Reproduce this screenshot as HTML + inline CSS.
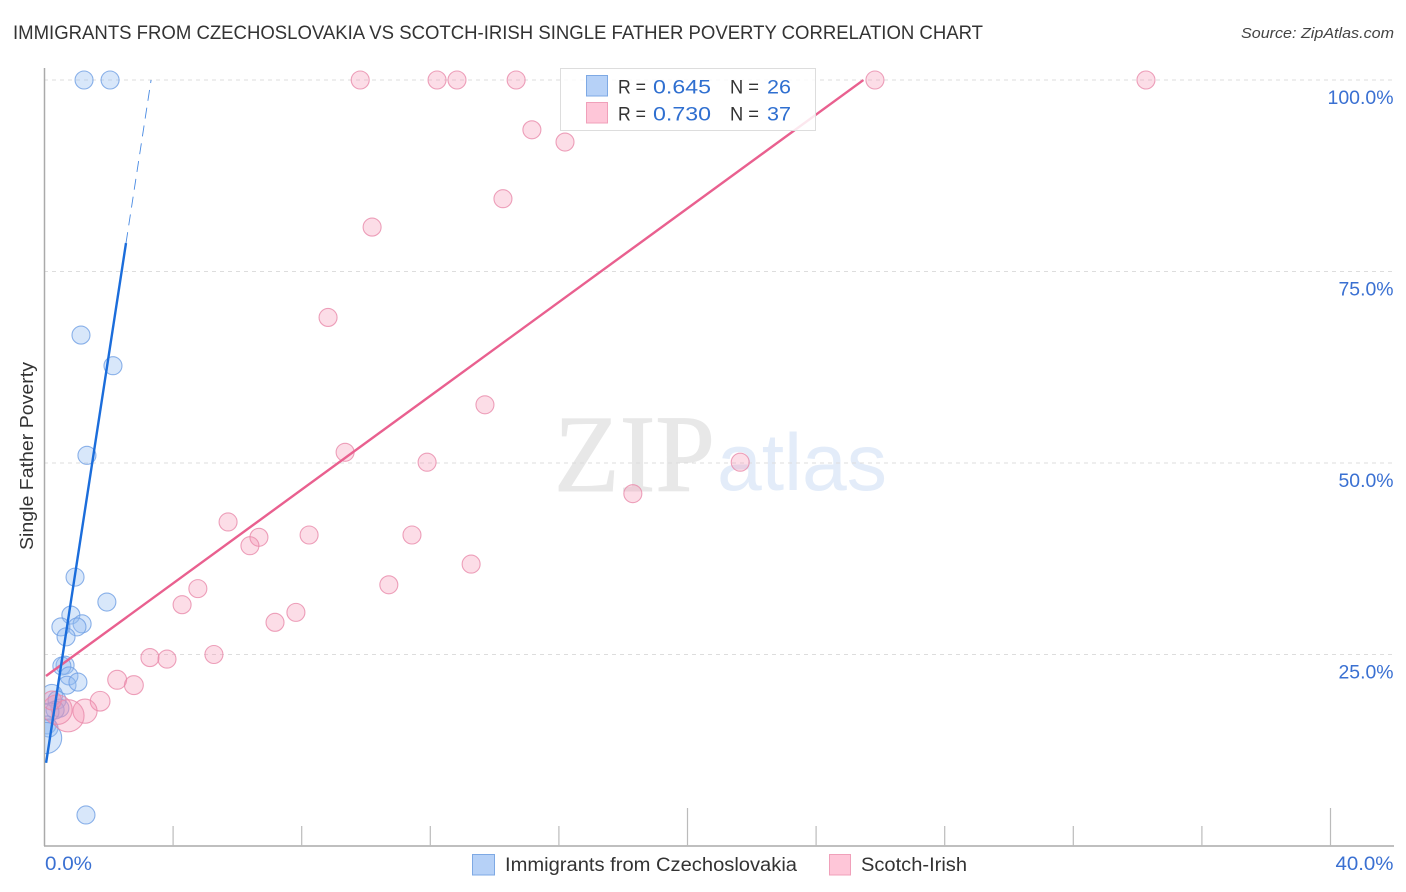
<!DOCTYPE html>
<html lang="en">
<head>
<meta charset="utf-8">
<title>Immigrants from Czechoslovakia vs Scotch-Irish Single Father Poverty Correlation Chart</title>
<style>
html,body{margin:0;padding:0;background:#fff;}
svg{display:block;font-family:"Liberation Sans",sans-serif;}
</style>
</head>
<body>
<svg id="chart" xmlns="http://www.w3.org/2000/svg" width="1406" height="892" viewBox="0 0 1406 892">
  <defs>
    <clipPath id="plot-clip"><rect x="45" y="60" width="1349" height="786"/></clipPath>
  </defs>
  <rect x="0" y="0" width="1406" height="892" fill="#fff"/>
  <text x="13" y="39" font-size="19" fill="#333" textLength="970" lengthAdjust="spacingAndGlyphs">IMMIGRANTS FROM CZECHOSLOVAKIA VS SCOTCH-IRISH SINGLE FATHER POVERTY CORRELATION CHART</text>
  <text x="1394" y="38" font-size="15" font-style="italic" fill="#444" text-anchor="end" textLength="153" lengthAdjust="spacingAndGlyphs">Source: ZipAtlas.com</text>
  <text transform="translate(33,550) rotate(-90)" font-size="18" fill="#333" textLength="188" lengthAdjust="spacingAndGlyphs">Single Father Poverty</text>

  <g>
    <text x="554" y="491" style="font-family:'Liberation Serif',serif" font-size="110" fill="#e8e8e8" stroke="#e8e8e8" stroke-width="1" textLength="161" lengthAdjust="spacingAndGlyphs">ZIP</text>
    <text x="717" y="490" style="font-family:'Liberation Sans',sans-serif" font-size="81" fill="#e3ecf9" textLength="170" lengthAdjust="spacingAndGlyphs">atlas</text>
  </g>

  <g id="grid"></g>
  <g id="axes"></g>
  <g id="points" clip-path="url(#plot-clip)"></g>
  <g id="trends"></g>

  <g>
    <rect x="560.5" y="68.5" width="255" height="62" fill="#fff" fill-opacity="0.85" stroke="#ddd" stroke-width="1"/>
    <rect x="586.5" y="75.5" width="21" height="20.5" fill="#b6d1f7" stroke="#7ea9e4"/>
    <rect x="586.5" y="102.5" width="21" height="20.5" fill="#fec6d8" stroke="#f0a0ba"/>
    <text x="618" y="93.5" font-size="19.5" fill="#333" textLength="28" lengthAdjust="spacingAndGlyphs">R =</text>
    <text x="653" y="93.5" font-size="19.5" fill="#2f6fd0" textLength="58" lengthAdjust="spacingAndGlyphs">0.645</text>
    <text x="730" y="93.5" font-size="19.5" fill="#333" textLength="29" lengthAdjust="spacingAndGlyphs">N =</text>
    <text x="767" y="93.5" font-size="19.5" fill="#2f6fd0" textLength="24" lengthAdjust="spacingAndGlyphs">26</text>
    <text x="618" y="120.5" font-size="19.5" fill="#333" textLength="28" lengthAdjust="spacingAndGlyphs">R =</text>
    <text x="653" y="120.5" font-size="19.5" fill="#2f6fd0" textLength="58" lengthAdjust="spacingAndGlyphs">0.730</text>
    <text x="730" y="120.5" font-size="19.5" fill="#333" textLength="29" lengthAdjust="spacingAndGlyphs">N =</text>
    <text x="767" y="120.5" font-size="19.5" fill="#2f6fd0" textLength="24" lengthAdjust="spacingAndGlyphs">37</text>
  </g>

  <g>
    <rect x="472.5" y="854.5" width="22" height="20.5" fill="#b6d1f7" stroke="#7ea9e4"/>
    <text x="505" y="871" font-size="19" fill="#333" textLength="292" lengthAdjust="spacingAndGlyphs">Immigrants from Czechoslovakia</text>
    <rect x="829.5" y="854.5" width="21" height="20.5" fill="#fec6d8" stroke="#f0a0ba"/>
    <text x="861" y="871" font-size="19" fill="#333" textLength="106" lengthAdjust="spacingAndGlyphs">Scotch-Irish</text>
  </g>
</svg>
<script>
// Chart data
const yTickValues = [25, 50, 75, 100];
const yTickLabels = ['25.0%', '50.0%', '75.0%', '100.0%'];
const xTickValues = [4, 8, 12, 16, 20, 24, 28, 32, 36, 40];
const xMajorTicks = [20, 40];
const xEndValues = [0, 40];
const xEndLabels = ['0.0%', '40.0%'];

const czechX = [1.23, 2.04, 1.135, 2.13, 1.32, 0.95, 1.94, 0.82, 1.17, 1.01, 0.51, 0.67, 0.64, 0.54, 0.76, 0.70, 1.04, 0.23, 0.39, 0.48, 0.33, 0.17, 0.08, 0.14, 0.05, 1.29];
const czechY = [100, 100, 66.7, 62.7, 51.0, 35.1, 31.85, 30.15, 29.0, 28.6, 28.6, 27.3, 23.6, 23.5, 22.2, 21.0, 21.4, 19.7, 19.05, 18.0, 17.75, 17.5, 15.8, 15.4, 14.1, 4.05];
const czechWeight = [1, 1, 1, 1, 1, 1, 1, 1, 1, 1, 1, 1, 1, 1, 1, 1, 1, 1.4, 1, 1, 1, 1, 1, 1, 3, 1];

const scotchX = [9.82, 12.21, 12.83, 14.67, 25.83, 34.26, 15.16, 16.19, 14.26, 10.19, 8.82, 13.7, 9.35, 11.9, 21.64, 18.3, 5.71, 6.67, 6.39, 8.23, 11.43, 13.27, 10.71, 4.77, 4.28, 7.82, 7.17, 5.27, 3.28, 3.81, 2.26, 2.78, 1.73, 1.26, 0.73, 0.4, 0.23];
const scotchY = [100, 100, 100, 100, 100, 100, 93.5, 91.9, 84.5, 80.8, 69, 57.6, 51.4, 50.1, 50.1, 46, 42.3, 40.3, 39.2, 40.6, 40.6, 36.8, 34.1, 33.6, 31.5, 30.5, 29.2, 25, 24.6, 24.4, 21.7, 21, 18.9, 17.6, 17, 17.8, 19];
const scotchWeight = [1, 1, 1, 1, 1, 1, 1, 1, 1, 1, 1, 1, 1, 1, 1, 1, 1, 1, 1, 1, 1, 1, 1, 1, 1, 1, 1, 1, 1, 1, 1.1, 1.1, 1.2, 1.8, 3.2, 2.7, 1.1];

const czechTrend = [9.5, 27.3];
const czechSolidRange = [0.05, 2.535];
const czechDashedEnd = [3.315];
const scotchTrend = [22.05, 3.06];
const scotchRange = [0.047, 25.47];

// Axis functions
const xScale = v => 44.5 + v * 32.15;
const yScale = v => 846 - v * 7.66;
const radius = w => 9 * Math.sqrt(w);
const NS = 'http://www.w3.org/2000/svg';
const mk = (parent, tag, attrs) => {
  const n = document.createElementNS(NS, tag);
  for (const k in attrs) n.setAttribute(k, attrs[k]);
  document.getElementById(parent).appendChild(n);
  return n;
};

// Gridlines and y labels
yTickValues.forEach((v, i) => {
  const g = mk('grid', 'line', {x1: 44, x2: 1393, y1: yScale(v), y2: yScale(v), stroke: '#ddd', 'stroke-width': 1, 'stroke-dasharray': '4 4'});
  
  
  const t = mk('axes', 'text', {x: 1393.5, y: yScale(v) + 24, 'font-size': 19, fill: '#3a70d2', 'text-anchor': 'end', textLength: yTickLabels[i].length * 11, lengthAdjust: 'spacingAndGlyphs'});
  t.textContent = yTickLabels[i];
  
  
});

// Axis lines
const xAxisLine = mk('axes', 'line', {x1: 44, x2: 1394, y1: 846, y2: 846, stroke: '#aaa', 'stroke-width': 1.5});


const yAxisLine = mk('axes', 'line', {x1: 44.5, x2: 44.5, y1: 68, y2: 846, stroke: '#aaa', 'stroke-width': 1.5});



// X ticks and end labels
xTickValues.forEach(v => {
  const top = xMajorTicks.includes(v) ? 808 : 826;
  const t = mk('axes', 'line', {x1: xScale(v), x2: xScale(v), y1: top, y2: 846, stroke: '#bbb', 'stroke-width': 1.2});
  
  
});
xEndValues.forEach((v, i) => {
  const anchorEnd = i === 1;
  const t = mk('axes', 'text', {x: anchorEnd ? 1393.5 : 45, y: 870, 'font-size': 19, fill: '#3a70d2', 'text-anchor': anchorEnd ? 'end' : 'start', textLength: anchorEnd ? 58 : 47, lengthAdjust: 'spacingAndGlyphs'});
  t.textContent = xEndLabels[i];
  
  
});

// Points
czechX.forEach((v, i) => {
  const c = mk('points', 'circle', {cx: xScale(v), cy: yScale(czechY[i]), r: radius(czechWeight[i]), fill: '#93bdf2', 'fill-opacity': 0.36, stroke: '#6f9fe3', 'stroke-opacity': 0.8, 'stroke-width': 1.1});
  
  
});
scotchX.forEach((v, i) => {
  const c = mk('points', 'circle', {cx: xScale(v), cy: yScale(scotchY[i]), r: radius(scotchWeight[i]), fill: '#f48fb1', 'fill-opacity': 0.3, stroke: '#e98aaa', 'stroke-opacity': 0.8, 'stroke-width': 1.1});
  
  
});

// Trend lines
const trendY = (t, x) => t[0] + t[1] * x;
const scotchLine = mk('trends', 'line', {x1: xScale(scotchRange[0]), y1: yScale(trendY(scotchTrend, scotchRange[0])), x2: xScale(scotchRange[1]), y2: yScale(trendY(scotchTrend, scotchRange[1])), stroke: '#e9608f', 'stroke-width': 2.4});


const czechLine = mk('trends', 'line', {x1: xScale(czechSolidRange[0]), y1: yScale(trendY(czechTrend, czechSolidRange[0])), x2: xScale(czechSolidRange[1]), y2: yScale(trendY(czechTrend, czechSolidRange[1])), stroke: '#1b6ddb', 'stroke-width': 2.4});


const czechDash = mk('trends', 'line', {x1: xScale(czechSolidRange[1]), y1: yScale(trendY(czechTrend, czechSolidRange[1])), x2: xScale(czechDashedEnd[0]), y2: yScale(trendY(czechTrend, czechDashedEnd[0])), stroke: '#1b6ddb', 'stroke-width': 0.9, 'stroke-opacity': 0.8, 'stroke-dasharray': '11 7'});


</script>
</body>
</html>
